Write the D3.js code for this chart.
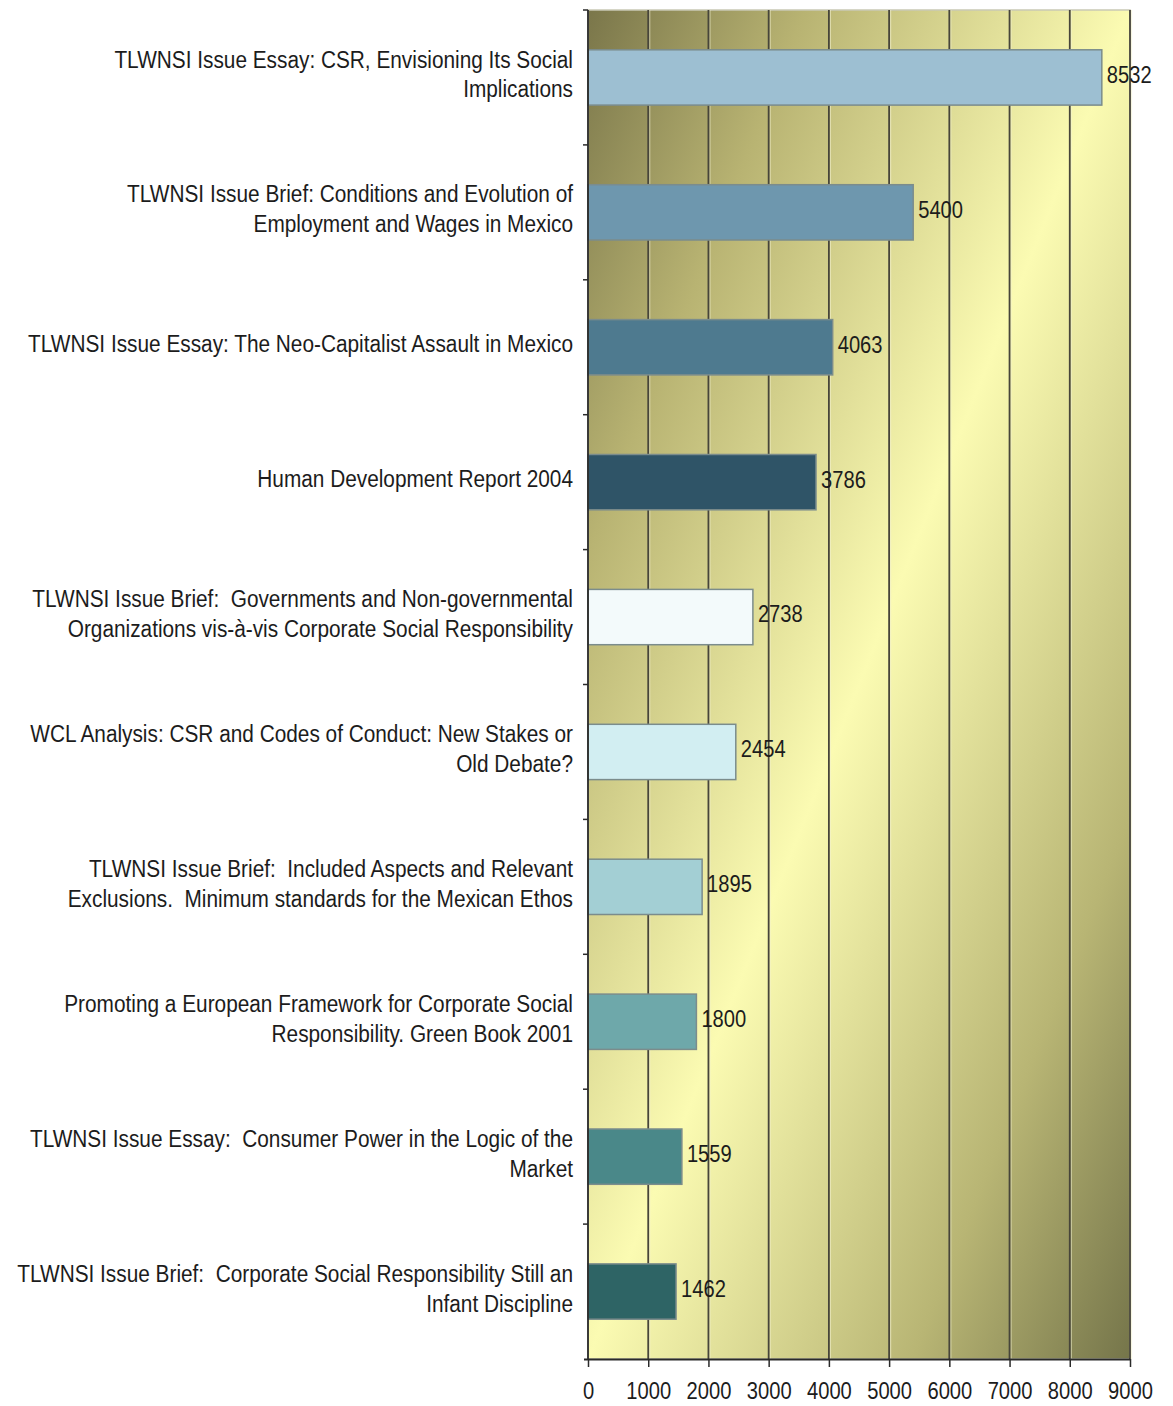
<!DOCTYPE html>
<html>
<head>
<meta charset="utf-8">
<script src="https://cdn.jsdelivr.net/npm/d3@7"></script>
<style>
  html, body { margin: 0; padding: 0; background: #ffffff; }
  svg { display: block; }
  text { font-family: "Liberation Sans", Arial, Helvetica, sans-serif; fill: #1c1c1c; white-space: pre; }
</style>
</head>
<body>
<svg id="chart" width="1173" height="1406"></svg>
<script>
// ---- data ----
const categories = [
  ["TLWNSI Issue Essay: CSR, Envisioning Its Social", "Implications"],
  ["TLWNSI Issue Brief: Conditions and Evolution of", "Employment and Wages in Mexico"],
  ["TLWNSI Issue Essay: The Neo-Capitalist Assault in Mexico"],
  ["Human Development Report 2004"],
  ["TLWNSI Issue Brief:  Governments and Non-governmental", "Organizations vis-à-vis Corporate Social Responsibility"],
  ["WCL Analysis: CSR and Codes of Conduct: New Stakes or", "Old Debate?"],
  ["TLWNSI Issue Brief:  Included Aspects and Relevant", "Exclusions.  Minimum standards for the Mexican Ethos"],
  ["Promoting a European Framework for Corporate Social", "Responsibility. Green Book 2001"],
  ["TLWNSI Issue Essay:  Consumer Power in the Logic of the", "Market"],
  ["TLWNSI Issue Brief:  Corporate Social Responsibility Still an", "Infant Discipline"]
];
const values = [8532, 5400, 4063, 3786, 2738, 2454, 1895, 1800, 1559, 1462];
const barColors = ["#9dbfd2", "#6e97ae", "#4e7a8f", "#2f5467", "#f3fafb", "#d2eef2", "#a3cfd4", "#6ea8aa", "#4a8889", "#2e6465"];
const xTicks = [0, 1000, 2000, 3000, 4000, 5000, 6000, 7000, 8000, 9000];

// ---- layout ----
const svg = d3.select("#chart");
const pL = 588, pR = 1130, pT = 10, pB = 1359;
const catSX = 0.905, numSX = 0.84;

const x = d3.scaleLinear().domain([0, 9000]).range([pL, pR]);
const y = d3.scaleBand().domain(d3.range(categories.length)).range([pT, pB]).paddingInner(0.59).paddingOuter(0.295);

// background gradient
const defs = svg.append("defs");
const grad = defs.append("linearGradient").attr("id", "bg")
  .attr("x1", 0).attr("y1", 0).attr("x2", 1).attr("y2", 1);
grad.append("stop").attr("offset", 0).attr("stop-color", "#7a764a");
grad.append("stop").attr("offset", 0.2).attr("stop-color", "#b8b372");
grad.append("stop").attr("offset", 0.5).attr("stop-color", "#fbfbb2");
grad.append("stop").attr("offset", 0.8).attr("stop-color", "#b8b574");
grad.append("stop").attr("offset", 1).attr("stop-color", "#75754a");

svg.append("rect")
  .attr("x", pL).attr("y", pT)
  .attr("width", pR - pL).attr("height", pB - pT)
  .attr("fill", "url(#bg)")
  .attr("stroke", "#c9c9b5").attr("stroke-width", 1.5);

// gridlines
const grid = svg.append("g");
grid.selectAll("line.hl").data(xTicks.slice(1)).join("line").attr("class", "hl")
  .attr("x1", d => x(d) + 1.5).attr("x2", d => x(d) + 1.5)
  .attr("y1", pT).attr("y2", pB)
  .attr("stroke", "#f2f0cf").attr("stroke-opacity", 0.6).attr("stroke-width", 1.2);
grid.selectAll("line.g").data(xTicks.slice(1)).join("line").attr("class", "g")
  .attr("x1", d => x(d)).attr("x2", d => x(d))
  .attr("y1", pT).attr("y2", pB)
  .attr("stroke", "#47453a").attr("stroke-width", 1.8);

// bars
svg.append("g").selectAll("rect").data(values).join("rect")
  .attr("x", x(0))
  .attr("y", (d, i) => y(i))
  .attr("width", d => x(d) - x(0))
  .attr("height", y.bandwidth())
  .attr("fill", (d, i) => barColors[i])
  .attr("stroke", "#7b8c8c").attr("stroke-width", 1.5);

// value labels
svg.append("g").selectAll("text").data(values).join("text")
  .attr("transform", (d, i) => `translate(${x(d) + 5},${y(i) + y.bandwidth() / 2 - 3}) scale(${numSX},1)`)
  .attr("dy", "0.35em")
  .attr("font-size", 24)
  .text(d => d);

// x axis
const xAxis = d3.axisBottom(x).tickValues(xTicks).tickSize(8).tickPadding(15).tickFormat(d3.format("d"));
const gx = svg.append("g").attr("transform", `translate(0,${pB})`).call(xAxis);
gx.select(".domain").attr("stroke", "#2a2a2a").attr("stroke-width", 1.8)
  .attr("d", `M${pL - 4},0.5H${pR}`);
gx.selectAll(".tick line").attr("stroke", "#2a2a2a").attr("stroke-width", 1.5);
gx.selectAll(".tick text").attr("font-size", 24)
  .attr("transform", `scale(${numSX},1)`)
  .attr("font-family", "Liberation Sans, Arial, sans-serif").attr("fill", "#1c1c1c");

// y axis line + boundary ticks
const ya = svg.append("g");
ya.append("line").attr("x1", pL).attr("x2", pL).attr("y1", pT).attr("y2", pB)
  .attr("stroke", "#2a2a2a").attr("stroke-width", 1.8);
const boundaries = d3.range(categories.length).map(i => i === 0 ? pT : y(i) - y.step() * y.paddingInner() / 2);
ya.selectAll("line.t").data(boundaries).join("line").attr("class", "t")
  .attr("x1", pL - 5).attr("x2", pL)
  .attr("y1", d => d).attr("y2", d => d)
  .attr("stroke", "#2a2a2a").attr("stroke-width", 1.5);

// category labels
const lineH = 30;
const lab = svg.append("g");
categories.forEach((lines, i) => {
  const cy = y(i) + y.bandwidth() / 2 - 3;
  const t = lab.append("text")
    .attr("transform", `translate(573,${cy}) scale(${catSX},1)`)
    .attr("text-anchor", "end")
    .attr("font-size", 23);
  lines.forEach((s, j) => {
    t.append("tspan")
      .attr("x", 0)
      .attr("y", (j - (lines.length - 1) / 2) * lineH)
      .attr("dy", "0.35em")
      .text(s);
  });
});
</script>
</body>
</html>
